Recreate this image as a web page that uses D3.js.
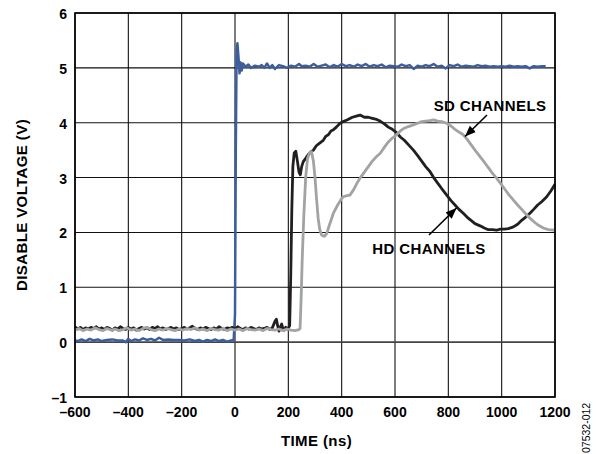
<!DOCTYPE html>
<html><head><meta charset="utf-8">
<script src="https://cdn.jsdelivr.net/npm/d3@7"></script>
<style>
body{margin:0;background:#fff;}
text{font-family:Arial,"Liberation Sans",Helvetica,sans-serif;}
</style></head>
<body><svg id="c" width="597" height="454"></svg>
<script>
const xTicks = [-600,-400,-200,0,200,400,600,800,1000,1200];
const yTicks = [-1,0,1,2,3,4,5,6];

// Blue channel: time (ns), voltage (V)
const blueT = [-600,-590,-575,-560,-545,-530,-515,-500,-480,-460,-440,-420,-410,-400,-390,-375,-360,-345,-330,-315,-300,-285,-270,-250,-230,-210,-190,-170,-150,-135,-120,-105,-90,-75,-60,-45,-30,-15,-5,0,3,6,9,13,17,21,25,30,40,50,60,75,90,100,110,120,130,140,150,165,180,195,210,225,240,250,265,280,295,310,325,340,355,370,385,400,415,430,445,460,475,490,505,520,535,550,565,580,595,610,625,640,655,670,685,700,715,730,745,760,775,790,805,820,835,850,865,880,895,910,925,940,955,970,985,1000,1015,1030,1045,1060,1075,1090,1105,1120,1135,1150,1165,1180,1200];
const blueV = [0.03,0.02,0.05,0.02,0.06,0.03,0.05,0.02,0.04,0.05,0.03,0.03,0.00,0.06,0.02,0.05,0.03,0.07,0.04,0.06,0.03,0.08,0.04,0.05,0.04,0.04,0.03,0.05,0.02,0.04,0.01,0.04,0.02,0.05,0.02,0.04,0.01,0.03,0.04,0.5,3.5,5.3,5.45,5.2,4.9,5.1,4.95,5.08,5.02,5.06,5.0,5.04,5.02,5.05,5.0,5.08,5.0,5.05,4.98,5.05,5.03,5.0,5.04,5.02,5.07,5.03,5.04,5.02,5.07,5.02,5.04,5.06,5.01,5.05,5.02,5.07,5.03,5.05,5.02,5.06,5.03,5.07,5.02,5.05,5.03,5.06,5.01,5.04,5.03,5.02,5.06,5.03,5.05,4.98,5.04,5.02,5.05,5.03,5.07,5.02,5.04,4.99,5.05,5.03,5.06,5.02,5.04,5.03,5.02,5.05,5.03,5.04,5.02,5.03,5.02,5.03,5.02,5.04,5.02,5.03,5.02,5.03,4.99,5.03,5.02,5.03,5.03];

// HD channels (black)
const hdT = [-600,-590,-580,-570,-560,-550,-540,-530,-520,-510,-500,-490,-480,-470,-460,-450,-440,-430,-420,-410,-400,-390,-380,-370,-360,-350,-340,-330,-320,-310,-300,-290,-280,-270,-260,-250,-240,-230,-220,-210,-200,-190,-180,-170,-160,-150,-140,-130,-120,-110,-100,-90,-80,-70,-60,-50,-40,-30,-20,-10,0,10,20,30,40,50,60,70,80,90,100,110,120,130,140,150,155,160,165,170,175,180,185,190,195,200,205,209,213,217,222,228,234,240,245,250,256,265,275,285,294,305,315,331,340,350,360,369,380,394,406,420,440,455,469,485,500,515,531,544,560,575,590,606,620,635,650,669,685,700,715,731,745,760,775,794,810,825,840,856,870,885,900,919,935,950,965,981,995,1010,1025,1044,1060,1075,1090,1106,1120,1135,1150,1169,1185,1200];
const hdV = [0.28,0.24,0.27,0.23,0.26,0.24,0.27,0.25,0.28,0.24,0.26,0.23,0.27,0.25,0.22,0.26,0.24,0.28,0.25,0.23,0.27,0.24,0.26,0.22,0.25,0.27,0.24,0.26,0.23,0.27,0.25,0.28,0.24,0.26,0.23,0.25,0.27,0.24,0.26,0.23,0.25,0.27,0.24,0.26,0.29,0.25,0.23,0.26,0.24,0.27,0.25,0.23,0.26,0.24,0.28,0.25,0.23,0.26,0.25,0.27,0.24,0.28,0.25,0.23,0.26,0.24,0.27,0.25,0.23,0.26,0.24,0.25,0.27,0.23,0.26,0.38,0.42,0.3,0.2,0.27,0.33,0.24,0.22,0.27,0.24,0.26,0.3,1.2,2.4,3.2,3.45,3.48,3.3,3.1,3.05,3.2,3.29,3.35,3.42,3.47,3.5,3.58,3.62,3.68,3.75,3.78,3.85,3.87,3.92,3.99,4.02,4.05,4.1,4.12,4.14,4.1,4.1,4.08,4.06,4.03,3.98,3.92,3.88,3.82,3.74,3.68,3.6,3.5,3.4,3.3,3.2,3.11,3.0,2.9,2.8,2.68,2.58,2.5,2.42,2.35,2.28,2.22,2.16,2.12,2.08,2.05,2.05,2.04,2.06,2.06,2.07,2.1,2.15,2.22,2.28,2.35,2.42,2.5,2.56,2.65,2.76,2.88];

// SD channels (grey)
const sdT = [-600,-585,-570,-555,-540,-525,-510,-495,-480,-465,-450,-435,-420,-405,-390,-375,-360,-345,-330,-315,-300,-285,-270,-255,-240,-225,-210,-195,-180,-165,-150,-135,-120,-105,-90,-75,-60,-45,-30,-15,0,15,30,45,60,75,90,105,120,135,150,165,180,195,210,225,240,244,248,252,258,265,272,280,287,294,300,306,312,318,325,335,344,355,369,385,400,406,420,431,445,460,469,485,500,515,530,544,560,575,590,606,620,635,650,669,685,700,715,731,745,760,775,794,810,825,840,856,870,885,900,919,935,950,965,981,995,1010,1025,1044,1060,1075,1090,1106,1120,1135,1156,1175,1200];
const sdV = [0.22,0.25,0.21,0.24,0.22,0.26,0.23,0.21,0.25,0.22,0.24,0.21,0.23,0.26,0.22,0.24,0.21,0.25,0.27,0.23,0.21,0.24,0.22,0.25,0.23,0.21,0.24,0.22,0.25,0.23,0.26,0.22,0.24,0.21,0.25,0.23,0.22,0.25,0.21,0.24,0.22,0.24,0.21,0.25,0.23,0.22,0.24,0.21,0.25,0.23,0.22,0.24,0.21,0.24,0.22,0.21,0.23,0.25,0.8,1.5,2.3,3.0,3.35,3.45,3.47,3.3,3.0,2.6,2.25,2.05,1.95,1.93,1.98,2.15,2.35,2.5,2.62,2.65,2.67,2.68,2.78,2.92,2.99,3.1,3.2,3.3,3.38,3.44,3.55,3.65,3.72,3.78,3.85,3.9,3.93,3.96,3.99,4.02,4.03,4.04,4.05,4.03,4.02,3.99,3.94,3.88,3.83,3.78,3.7,3.6,3.5,3.38,3.28,3.18,3.08,2.99,2.9,2.8,2.7,2.59,2.5,2.42,2.34,2.26,2.2,2.14,2.08,2.05,2.04];

const svg = d3.select("#c");
const L = 75, T = 13, W = 480, H = 384;
const x = d3.scaleLinear().domain([-600,1200]).range([L, L+W]);
const y = d3.scaleLinear().domain([-1,6]).range([T+H, T]);

// grid
const g = svg.append("g");
g.selectAll(".vx").data(xTicks).enter().append("line")
  .attr("x1",d=>x(d)).attr("x2",d=>x(d)).attr("y1",T).attr("y2",T+H)
  .attr("stroke","#111").attr("stroke-width",1.1);
g.selectAll(".hy").data(yTicks).enter().append("line")
  .attr("y1",d=>y(d)).attr("y2",d=>y(d)).attr("x1",L).attr("x2",L+W)
  .attr("stroke",d=>d===0?"#444":"#111").attr("stroke-width",d=>d===0?1.6:1.1);

function zip(t,v){return t.map((d,i)=>[d,v[i]]);}
const line = d3.line().x(d=>x(d[0])).y(d=>y(d[1])).curve(d3.curveLinear);

svg.append("path").datum(zip(blueT,blueV)).attr("d",line)
  .attr("fill","none").attr("stroke","#3c5e9e").attr("stroke-width",2.5).attr("stroke-linejoin","round");
svg.append("path").datum(zip(hdT,hdV)).attr("d",line)
  .attr("fill","none").attr("stroke","#231f20").attr("stroke-width",2.8).attr("stroke-linejoin","round");
svg.append("path").datum(zip(sdT,sdV)).attr("d",line)
  .attr("fill","none").attr("stroke","#a3a3a3").attr("stroke-width",2.8).attr("stroke-linejoin","round");

// frame
svg.append("rect").attr("x",L).attr("y",T).attr("width",W).attr("height",H)
  .attr("fill","none").attr("stroke","#000").attr("stroke-width",1.6);

const fmt = d => d < 0 ? "\u2013" + Math.abs(d) : String(d);
// tick labels
svg.selectAll(".yl").data(yTicks).enter().append("text")
  .attr("x",67).attr("y",d=>y(d)+6).attr("text-anchor","end")
  .attr("font-size",14).attr("font-weight","bold").text(fmt);
svg.selectAll(".xl").data(xTicks).enter().append("text")
  .attr("x",d=>x(d)).attr("y",417).attr("text-anchor","middle")
  .attr("font-size",14).attr("font-weight","bold").text(fmt);

// axis titles
const titleStyle = s => s.attr("font-size",15).attr("font-weight","bold").attr("letter-spacing",0.4);
svg.append("text").attr("x",316.5).attr("y",445.5).attr("text-anchor","middle")
  .call(titleStyle).text("TIME (ns)");
svg.append("text").attr("transform","translate(27,205) rotate(-90)").attr("text-anchor","middle")
  .call(titleStyle).text("DISABLE VOLTAGE (V)");
svg.append("text").attr("transform","translate(590,453) rotate(-90)").attr("text-anchor","start")
  .attr("font-size",10.5).text("07532-012");

// annotations
svg.append("defs").append("marker").attr("id","ah").attr("viewBox","0 0 10 10")
  .attr("refX",10).attr("refY",5).attr("markerWidth",11).attr("markerHeight",11)
  .attr("markerUnits","userSpaceOnUse").attr("orient","auto")
  .append("path").attr("d","M0,1 L10,5 L0,9 Z").attr("fill","#000");
svg.append("text").attr("x",490).attr("y",110.5).attr("text-anchor","middle")
  .call(titleStyle).text("SD CHANNELS");
svg.append("line").attr("x1",487).attr("y1",115).attr("x2",465).attr("y2",136.5)
  .attr("stroke","#000").attr("stroke-width",1.6).attr("marker-end","url(#ah)");
svg.append("text").attr("x",429).attr("y",253.5).attr("text-anchor","middle")
  .call(titleStyle).text("HD CHANNELS");
svg.append("line").attr("x1",429).attr("y1",235).attr("x2",456.5).attr("y2",208)
  .attr("stroke","#000").attr("stroke-width",1.6).attr("marker-end","url(#ah)");
</script></body></html>
